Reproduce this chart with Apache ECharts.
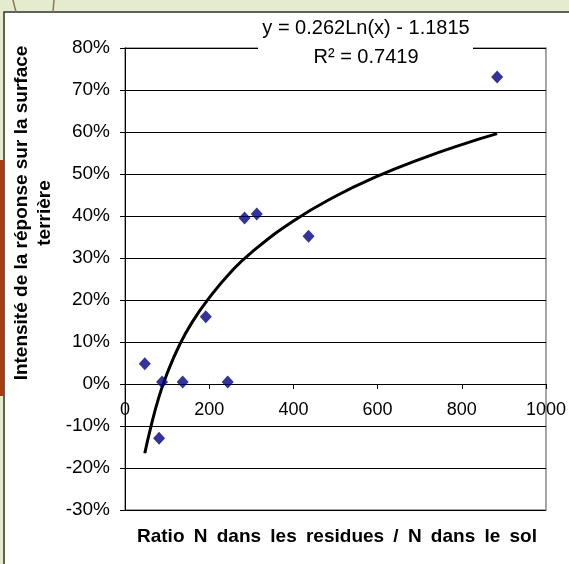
<!DOCTYPE html>
<html>
<head>
<meta charset="utf-8">
<script src="https://cdn.jsdelivr.net/npm/echarts@6/dist/echarts.min.js"></script>
<style>
  html, body { margin: 0; padding: 0; background: #e4ebcf; }
  #chart { width: 569px; height: 564px; }
</style>
</head>
<body>
<div id="chart"></div>
<script>
// points
var ratioN = [47, 81, 88, 137, 192, 244, 284, 313, 436, 884];
var intensite = [0.048, -0.129, 0.005, 0.005, 0.160, 0.005, 0.395, 0.405, 0.352, 0.731];

// trend curve (logarithmic, as drawn)
var trendX = [47, 60, 80, 100, 130, 160, 200, 250, 300, 400, 500, 600, 700, 800, 884];
var trendY = [-0.165, -0.108, -0.033, 0.025, 0.094, 0.148, 0.205, 0.265, 0.313, 0.388, 0.447, 0.495, 0.535, 0.570, 0.596];

var xTicks = [0, 200, 400, 600, 800, 1000];
var yTicks = [-0.3, -0.2, -0.1, 0, 0.1, 0.2, 0.3, 0.4, 0.5, 0.6, 0.7, 0.8];

var eqText = 'y = 0.262Ln(x) - 1.1815';
var r2Text = 'R\u00b2 = 0.7419';
var xTitle = 'Ratio N dans les residues / N dans le sol';
var yTitle = 'Intensité de la réponse sur la surface\nterrière';

function pairs(xs, ys) {
    var arr = [];
    for (var i = 0; i < xs.length; i++) {
        arr.push([xs[i], ys[i]]);
    }
    return arr;
}

var font = '"Liberation Sans", Arial, sans-serif';

/**
 * lays the words of a title out between left and right (Excel spreads them wide)
 */
function spreadWords(str, left, right, y, fnt) {
    var ctx = document.createElement('canvas').getContext('2d');
    ctx.font = fnt;
    var words = str.split(' ');
    var widths = [], sum = 0;
    for (var i = 0; i < words.length; i++) {
        var w = ctx.measureText(words[i]).width;
        widths.push(w);
        sum += w;
    }
    var gap = (right - left - sum) / (words.length - 1);
    var children = [];
    var cx = left;
    for (var j = 0; j < words.length; j++) {
        children.push({
            type: 'text', x: cx, y: y,
            style: { text: words[j], font: fnt, fill: '#000', align: 'left', verticalAlign: 'middle' }
        });
        cx += widths[j] + gap;
    }
    return { type: 'group', children: children, z: 11 };
}

var option = {
    backgroundColor: '#e4ebcf',
    animation: false,
    grid: {
        left: 125, right: 22, top: 48, bottom: 54,
        show: true,
        backgroundColor: '#fff',
        borderColor: '#8a8a8a',
        borderWidth: 1.5
    },
    xAxis: {
        type: 'value',
        min: xTicks[0],
        max: xTicks[xTicks.length - 1],
        interval: 200,
        offset: -126,
        axisLine: { onZero: false, lineStyle: { color: '#000', width: 1 } },
        axisTick: { show: true, length: 5, lineStyle: { color: '#000' } },
        axisLabel: {
            color: '#000', fontSize: 18, fontFamily: font, margin: 17,
            formatter: function (v) { return String(v); }
        },
        splitLine: { show: false }
    },
    yAxis: {
        type: 'value',
        min: yTicks[0],
        max: yTicks[yTicks.length - 1],
        interval: 0.1,
        axisLine: { show: true, onZero: false, lineStyle: { color: '#000', width: 1 } },
        axisTick: { show: true, length: 5, lineStyle: { color: '#000' } },
        axisLabel: {
            color: '#000', fontSize: 19, fontFamily: font, margin: 15,
            formatter: function (v) { return Math.round(v * 100) + '%'; }
        },
        splitLine: { show: true, lineStyle: { color: '#000', width: 1 } }
    },
    series: [
        {
            name: 'trend',
            type: 'line',
            data: pairs(trendX, trendY),
            smooth: true,
            showSymbol: false,
            lineStyle: { color: '#000', width: 3 },
            z: 3
        },
        {
            name: 'points',
            type: 'scatter',
            data: pairs(ratioN, intensite),
            symbol: 'diamond',
            symbolSize: [12, 13],
            itemStyle: { color: '#000080' },
            z: 4
        }
    ],
    graphic: [
        // frame of the chart on the slide
        { type: 'rect', shape: { x: 4, y: 12, width: 570, height: 560 }, style: { fill: 'none', stroke: '#333', lineWidth: 1.5 }, z: -10 },
        { type: 'rect', shape: { x: 0, y: 160, width: 4, height: 236 }, style: { fill: '#a63d16' }, z: -10 },
        { type: 'rect', shape: { x: 5, y: 13, width: 570, height: 560 }, style: { fill: '#fff' }, z: -20 },
        { type: 'line', shape: { x1: 13, y1: 0, x2: 16, y2: 12 }, style: { stroke: '#8a7a55', lineWidth: 1.5 }, z: -10 },
        { type: 'line', shape: { x1: 54, y1: 0, x2: 53, y2: 12 }, style: { stroke: '#8a7a55', lineWidth: 1.5 }, z: -10 },
        // equation label
        { type: 'rect', shape: { x: 258, y: 13, width: 215, height: 58 }, style: { fill: '#fff' }, z: 10 },
        { type: 'text', x: 366, y: 28, style: { text: eqText, font: '20px ' + font, fill: '#000', align: 'center', verticalAlign: 'middle' }, z: 11 },
        { type: 'text', x: 366, y: 57, style: { text: r2Text, font: '20px ' + font, fill: '#000', align: 'center', verticalAlign: 'middle' }, z: 11 },
        // axis titles
        spreadWords(xTitle, 137, 537, 537, 'bold 19px ' + font),
        { type: 'text', x: 33, y: 213, rotation: Math.PI / 2, style: { text: yTitle, font: 'bold 19px ' + font, fill: '#000', align: 'center', verticalAlign: 'middle', lineHeight: 23 }, z: 11 }
    ]
};

var chart = echarts.init(document.getElementById('chart'));
chart.setOption(option);
</script>
</body>
</html>
